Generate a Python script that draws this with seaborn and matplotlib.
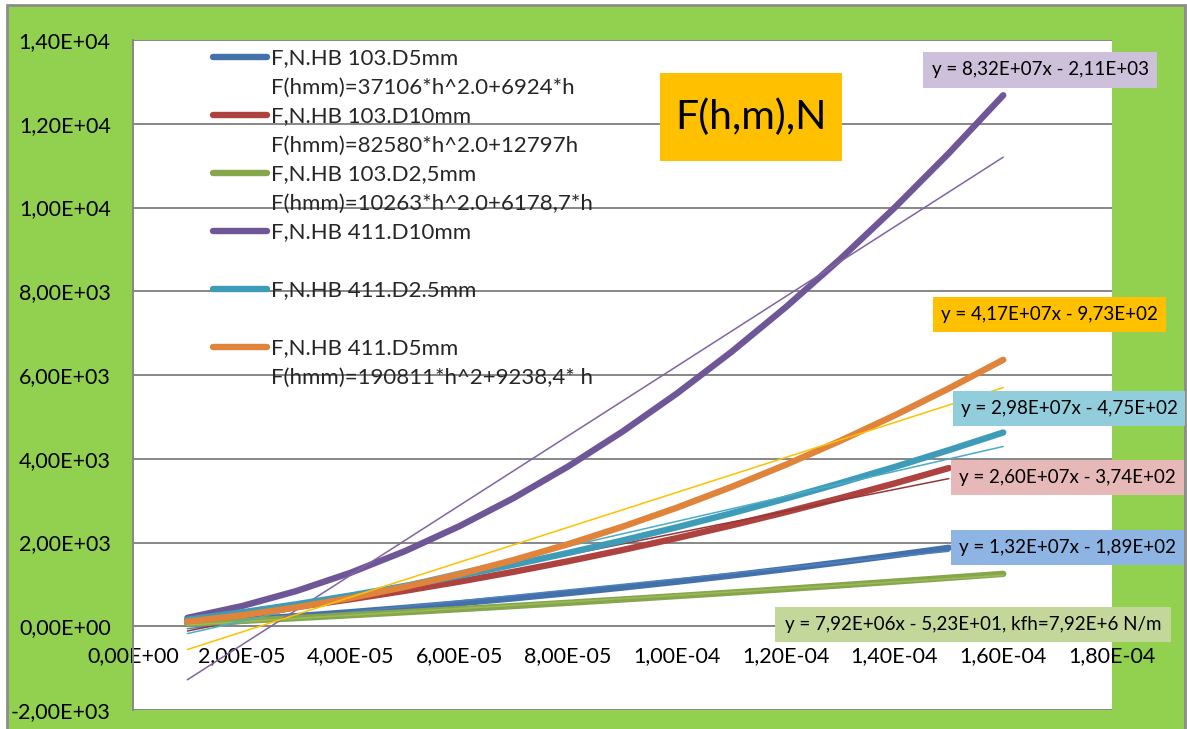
import numpy as np
import pandas as pd
import matplotlib
matplotlib.use("Agg")
import matplotlib.pyplot as plt
import seaborn as sns
from matplotlib.lines import Line2D
from matplotlib.patches import Rectangle
from matplotlib.ticker import FuncFormatter

# indentation depth h, m
h_m = [1e-5, 2e-5, 3e-5, 4e-5, 5e-5, 6e-5, 7e-5, 8e-5,
       9e-5, 1.0e-4, 1.1e-4, 1.2e-4, 1.3e-4, 1.4e-4, 1.5e-4, 1.6e-4]

# force F, N
f_103_d5 = [72.9, 153.3, 241.1, 336.3, 439.0, 549.0, 666.5, 791.4,
            923.7, 1063.5, 1210.6, 1365.2, 1527.2, 1696.6, 1873.5]
f_103_d10 = [136.2, 289.0, 458.2, 644.0, 846.3, 1065.1, 1300.4, 1552.3,
             1820.6, 2105.5, 2406.9, 2724.8, 3059.2, 3410.2, 3777.6]
f_103_d25 = [62.8, 127.7, 194.6, 263.6, 334.6, 407.7, 482.8, 560.0,
             639.2, 720.5, 803.8, 889.2, 976.7, 1066.2, 1157.7, 1251.3]
f_411_d10 = [200.9, 480.8, 839.5, 1277.0, 1793.5, 2388.8, 3063.1, 3816.2,
             4648.1, 5559.0, 6548.7, 7617.4, 8764.9, 9991.2, 11296.5, 12680.6]
f_411_d25 = [157.2, 332.0, 524.4, 734.4, 962.0, 1207.2, 1470.0, 1750.4,
             2048.4, 2364.0, 2697.2, 3048.0, 3416.4, 3802.4, 4206.0, 4627.2]
f_411_d5 = [111.5, 261.1, 448.9, 674.8, 938.9, 1241.2, 1581.7, 1960.3,
            2377.0, 2832.0, 3325.0, 3856.3, 4425.7, 5033.3, 5679.0, 6362.9]

series_names = ["F,N.HB 103.D5mm", "F,N.HB 103.D10mm", "F,N.HB 103.D2,5mm",
                "F,N.HB 411.D10mm", "F,N.HB 411.D2.5mm", "F,N.HB 411.D5mm"]
series_formula = ["F(hmm)=37106*h^2.0+6924*h", "F(hmm)=82580*h^2.0+12797h",
                  "F(hmm)=10263*h^2.0+6178,7*h", "", "",
                  "F(hmm)=190811*h^2+9238,4* h"]
series_values = [f_103_d5, f_103_d10, f_103_d25, f_411_d10, f_411_d25, f_411_d5]

# linear trendlines (from the labels)
trend_slope = [1.32e7, 2.60e7, 7.92e6, 8.32e7, 2.98e7, 4.17e7]
trend_icpt = [-189.0, -374.0, -52.3, -2110.0, -475.0, -973.0]
trend_text = ["y = 1,32E+07x - 1,89E+02", "y = 2,60E+07x - 3,74E+02",
              "y = 7,92E+06x - 5,23E+01, kfh=7,92E+6 N/m",
              "y = 8,32E+07x - 2,11E+03", "y = 2,98E+07x - 4,75E+02",
              "y = 4,17E+07x - 9,73E+02"]

line_cols = ["#4371aa", "#ad423f", "#86a64b", "#6f5797", "#3f9cb9", "#e0833b"]
trend_cols = ["#4f81bd", "#953735", "#9bbb59", "#8064a2", "#4bacc6", "#ffc000"]
box_cols = ["#8db4e2", "#e6b9b8", "#c4d79b", "#ccc0da", "#92cddc", "#ffc000"]

sns.set_style("white")
plt.rcParams['font.family'] = ['Lato', 'DejaVu Sans']

W, H = 1187, 729
fig = plt.figure(figsize=(W / 100, H / 100), dpi=100, facecolor="white")
fig.patches.append(Rectangle((7 / W, -0.05), (1185 - 7) / W, 1 - 5 / H + 0.05,
                             transform=fig.transFigure, facecolor="#92d050",
                             edgecolor="#8c8c8c", lw=2, zorder=-5))
ax = fig.add_axes([133 / W, 1 - 710 / H, (1112 - 133) / W, (710 - 40) / H])
ax.set_facecolor("white")

for i, vals in enumerate(series_values):
    xs = h_m[:len(vals)]
    sns.lineplot(x=xs, y=vals, ax=ax, color=line_cols[i], lw=4.6,
                 solid_capstyle="round", sort=False, zorder=3)
    x_ends = np.array([xs[0], xs[-1]])
    sns.lineplot(x=x_ends, y=trend_slope[i] * x_ends + trend_icpt[i], ax=ax,
                 color=trend_cols[i], lw=1.1, sort=False, zorder=3)

ax.set_xlim(0, 1.8e-4)
ax.set_ylim(-2000, 14000)
ax.set_xticks(np.arange(0, 10) * 2e-5)
ax.set_yticks(np.arange(-1, 8) * 2000)
fmt = FuncFormatter(lambda v, p: f"{v:.2E}".replace(".", ","))
ax.xaxis.set_major_formatter(fmt)
ax.yaxis.set_major_formatter(fmt)
ax.yaxis.grid(True, color="#878787", lw=1.4)
ax.set_axisbelow(True)
for s in ["top", "right"]:
    ax.spines[s].set_visible(False)
ax.spines["bottom"].set_position(("data", 0))
ax.spines["bottom"].set_color("#878787")
ax.spines["bottom"].set_linewidth(1.4)
ax.spines["left"].set_color("#878787")
ax.spines["left"].set_linewidth(1.4)
ax.tick_params(axis="both", direction="out", length=5, width=1.2,
               color="#878787", labelsize=15.5, labelcolor="black")
ax.tick_params(axis="x", pad=9)
ax.tick_params(axis="y", pad=11)

handles, labels = [], []
for i, name in enumerate(series_names):
    handles.append(Line2D([0], [0], color=line_cols[i], lw=4.6, solid_capstyle="round"))
    labels.append(name)
    handles.append(Line2D([0], [0], color="none"))
    labels.append(series_formula[i] if series_formula[i] else " ")
ax.legend(handles, labels, loc="upper left", bbox_to_anchor=(0.0817, 0.9875),
          bbox_transform=ax.transAxes, frameon=False, fontsize=16,
          handlelength=2.45, handletextpad=0.18, labelspacing=0.405,
          borderpad=0, borderaxespad=0)


def label_box(x0, y0, x1, y1, text, color, size):
    fig.patches.append(Rectangle((x0 / W, 1 - y1 / H), (x1 - x0) / W, (y1 - y0) / H,
                                 transform=fig.transFigure, facecolor=color,
                                 edgecolor="none", zorder=5))
    fig.text((x0 + x1) / 2 / W, 1 - (y0 + y1) / 2 / H, text, ha="center",
             va="center", fontsize=size, color="black", zorder=6)


label_box(660, 73, 842, 161, "F(h,m),N", "#ffc000", 29.5)
label_box(923, 52, 1157, 88, trend_text[3], box_cols[3], 13.5)
label_box(933, 297, 1166, 332, trend_text[5], box_cols[5], 13.5)
label_box(953, 391, 1185, 426, trend_text[4], box_cols[4], 13.5)
label_box(951, 460, 1184, 495, trend_text[1], box_cols[1], 13.5)
label_box(951, 530, 1184, 565, trend_text[0], box_cols[0], 13.5)
label_box(775, 607, 1171, 642, trend_text[2], box_cols[2], 13.5)

fig.savefig("out.png", dpi=100, facecolor=fig.get_facecolor())
